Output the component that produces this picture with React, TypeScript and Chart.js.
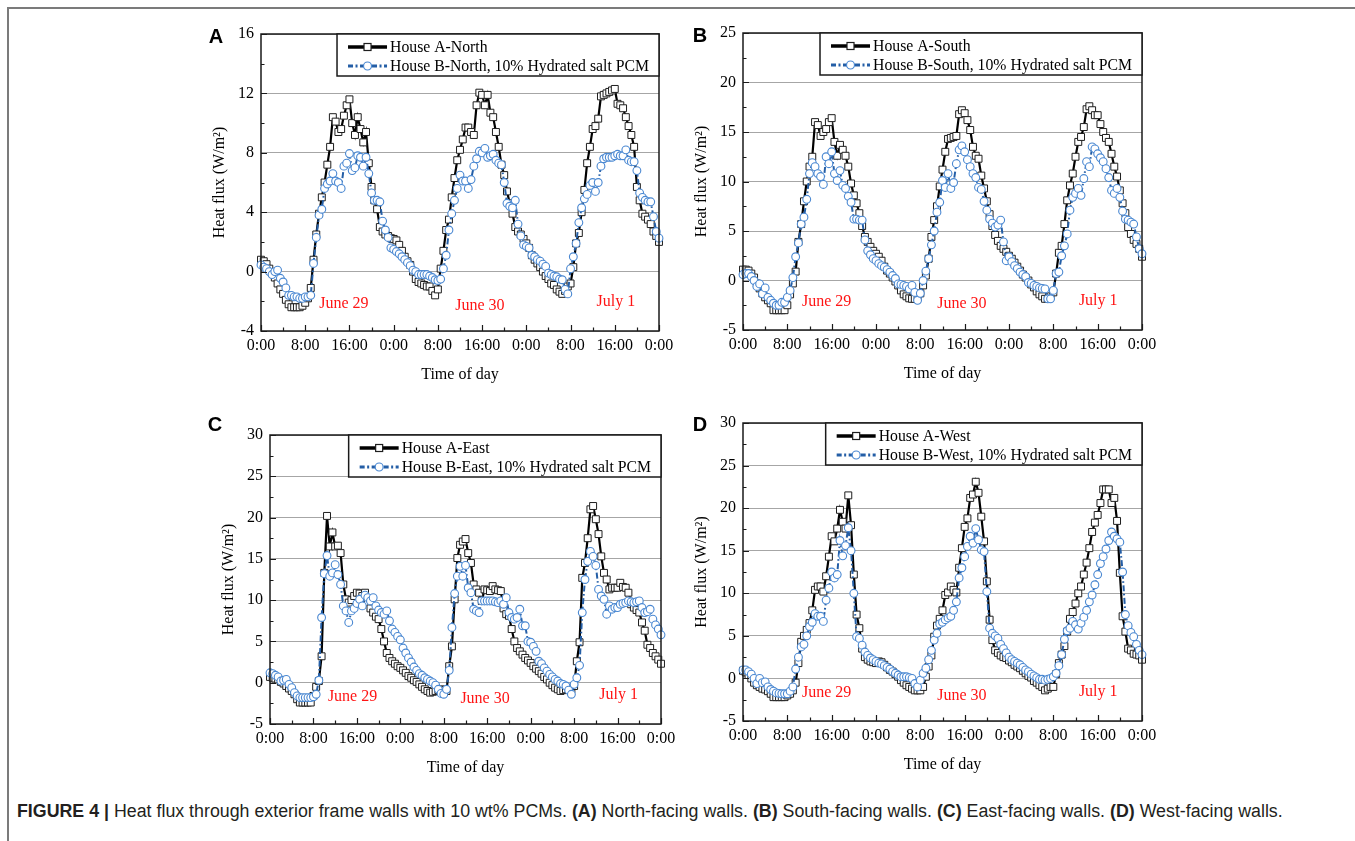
import React, { useEffect, useLayoutEffect, useRef } from "react";
import { Chart, registerables } from "chart.js";

Chart.register(...registerables);

const SERIF = "'Liberation Serif', 'Times New Roman', Times, serif";
const SANS = "'Liberation Sans', Arial, Helvetica, sans-serif";

// Sample times: hours after 0:00 on June 29, one reading every 30 minutes
const sampleHours: number[] = Array.from({ length: 145 }, (_, i) => i * 0.5);
const xTickHours = { min: 0, max: 72, step: 8 };
const dayLabels = ["June 29", "June 30", "July 1"];

// ---- (A) North ----
const northHouseA = [
  0.8, 0.7, 0.5, 0.2, -0.1, -0.4, -0.8, -1.2,
  -1.5, -1.9, -2.2, -2.4, -2.4, -2.4, -2.4, -2.3,
  -2.1, -1.8, -1.1, 0.8, 2.5, 3.9, 5.0, 6.0,
  7.2, 8.4, 10.4, 10.1, 9.4, 9.6, 10.5, 11.2,
  11.6, 10.0, 9.2, 10.4, 9.6, 8.7, 9.4, 7.3,
  5.7, 4.8, 4.2, 3.0, 2.7, 2.5, 2.4, 2.25,
  2.2, 2.1, 1.8, 1.4, 1.0, 0.7, 0.45, 0.0,
  -0.5, -0.7, -0.8, -0.9, -1.0, -1.0, -1.3, -1.6,
  -1.2, 0.2, 1.4, 2.8, 3.5, 5.0, 6.3, 7.5,
  8.2, 8.9, 9.7, 9.7, 9.4, 9.2, 11.2, 12.05,
  11.9, 11.2, 11.9, 10.7, 10.4, 9.4, 8.4, 7.2,
  6.5, 5.4, 4.6, 3.9, 3.0, 2.7, 2.5, 2.2,
  1.9, 1.6, 1.1, 0.8, 0.55, 0.3, 0.0, -0.3,
  -0.5, -0.8, -0.9, -1.2, -1.35, -1.5, -1.3, -1.0,
  -0.8, 0.3, 1.9, 2.6, 4.0, 5.5, 7.3, 8.4,
  9.6, 9.8, 10.3, 11.8, 11.9, 12.0, 12.1, 12.2,
  12.3, 11.3, 11.2, 11.0, 10.4, 9.8, 9.2, 8.4,
  5.7, 4.8, 3.9, 3.7, 3.5, 3.2, 2.7, 2.4,
  2.0,
];
const northHouseB = [
  0.45, 0.3, 0.2, 0.0, -0.2, 0.0, 0.1, -0.45,
  -0.7, -1.1, -1.6, -1.6, -1.7, -1.7, -1.8, -1.8,
  -1.7, -1.7, -1.6, 0.55, 2.3, 3.8, 4.2, 5.6,
  5.9, 6.1, 6.6, 6.1, 6.0, 5.6, 7.1, 7.3,
  7.95, 6.8, 7.0, 7.8, 7.7, 7.1, 7.7, 6.6,
  5.3, 4.8, 4.8, 4.7, 3.4, 2.8, 2.3, 1.6,
  1.5, 1.35, 1.2, 1.0, 0.8, 0.6, 0.4, 0.1,
  0.0, -0.2, -0.2, -0.2, -0.2, -0.3, -0.4, -0.55,
  -0.6, -0.5, 0.2, 1.1, 2.8, 3.9, 4.8, 5.6,
  6.5, 6.1, 6.1, 5.6, 6.2, 7.1, 7.6, 8.1,
  8.0, 8.3, 7.7, 7.8, 7.9, 7.5, 7.3, 7.2,
  6.0, 4.6, 4.4, 4.3, 4.8, 3.2, 2.4, 1.8,
  1.7, 1.6, 1.1, 1.0, 0.8, 0.7, 0.5, 0.35,
  -0.1, -0.2, -0.3, -0.35, -0.5, -0.55, -1.2, -1.5,
  0.2, 1.0, 1.9, 3.3, 4.3, 4.9, 5.2, 5.8,
  6.0, 5.4, 6.0, 7.1, 7.6, 7.7, 7.7, 7.7,
  7.8, 7.9, 7.8, 7.8, 8.2, 7.5, 7.4, 7.4,
  6.8, 5.3, 5.0, 4.8, 4.7, 4.7, 3.7, 2.7,
  2.25,
];

// ---- (B) South ----
const southHouseA = [
  1.1, 1.1, 1.0, 0.7, 0.3, -0.3, -0.8, -1.3,
  -1.7, -2.0, -2.3, -3.0, -3.0, -3.0, -3.0, -3.0,
  -2.5, -1.4, -0.3, 0.9, 3.9, 5.7, 8.0, 10.0,
  11.5, 12.5, 16.0, 15.7, 14.6, 15.0, 15.3, 16.0,
  16.4, 14.0, 12.6, 13.7, 13.2, 12.6, 11.5, 9.8,
  8.6, 7.8, 6.8, 5.5, 4.4, 3.9, 3.4, 3.0,
  2.7, 2.4, 2.0, 1.4, 1.0, 0.7, 0.3, -0.1,
  -0.5, -1.0, -1.4, -1.6, -1.8, -1.85, -1.85, -1.7,
  -1.3, -0.5, 0.5, 2.2, 4.4, 6.1, 7.5, 9.5,
  11.2, 13.0, 14.3, 14.4, 14.5, 14.6, 16.8, 17.2,
  16.9, 16.2, 15.2, 13.5, 12.6, 12.3, 10.6, 9.3,
  8.0, 6.7, 5.5, 4.6, 4.0, 3.5, 3.2, 2.9,
  2.5, 2.2, 1.8, 1.4, 1.0, 0.6, 0.3, 0.0,
  -0.4, -0.7, -1.1, -1.4, -1.6, -1.85, -1.85, -1.6,
  -1.2, 0.7, 2.8, 3.5, 5.7, 8.1, 9.6, 10.8,
  12.5, 14.0, 14.5, 15.5, 17.3, 17.6, 17.2, 16.7,
  16.7, 15.8, 15.0, 14.4, 14.0, 12.8, 11.5, 10.5,
  9.1, 7.8, 6.8, 5.4, 4.7, 4.1, 3.7, 3.2,
  2.4,
];
const southHouseB = [
  0.6, 0.7, 0.7, 0.4, 0.0, -0.6, -0.35, -1.35,
  -0.75, -1.7, -2.0, -2.3, -2.5, -2.5, -2.2, -2.2,
  -1.7, -1.0, 0.3, 2.4, 3.8, 5.7, 6.4, 8.2,
  10.8, 11.9, 11.5, 10.8, 10.5, 9.7, 12.5, 11.8,
  13.0, 10.8, 10.1, 11.1, 9.6, 9.3, 8.5, 7.9,
  6.2, 6.2, 6.1, 6.1, 4.1, 3.0, 2.6, 2.2,
  2.0, 1.7, 1.5, 1.35, 1.1, 0.85, 0.5, 0.2,
  -0.35, -0.4, -0.5, -0.6, -0.85, -0.5, -1.2, -2.0,
  -1.3, 0.0, 0.95, 2.2, 3.6, 5.0, 6.9, 7.9,
  10.1, 9.4, 10.8, 9.3, 9.9, 11.8, 13.2, 13.6,
  13.0, 12.2, 11.5, 10.8, 10.4, 9.4, 9.2, 8.0,
  7.1, 6.2, 5.8, 5.4, 5.6, 6.1, 3.9, 2.0,
  2.4, 1.9, 1.5, 1.2, 0.85, 0.6, 0.4, -0.2,
  -0.3, -0.5, -0.6, -0.75, -0.8, -0.85, -1.85, -1.85,
  -1.0, 0.7, 0.85, 2.5, 3.5, 4.7, 7.1, 8.4,
  8.8, 9.3, 8.6, 10.3, 12.0, 11.5, 13.5, 13.3,
  12.8, 12.4, 12.0, 11.3, 10.4, 9.1, 8.8, 9.3,
  8.4, 7.0, 6.2, 6.1, 5.9, 5.7, 4.4, 3.2,
  2.7,
];

// ---- (C) East ----
const eastHouseA = [
  0.7, 0.6, 0.5, 0.4, 0.1, -0.1, -0.4, -0.7,
  -1.0, -1.4, -2.0, -2.4, -2.4, -2.4, -2.4, -2.4,
  -1.6, -0.5, 0.2, 3.2, 13.3, 20.2, 16.5, 18.2,
  16.5, 16.6, 15.7, 11.9, 10.1, 9.7, 10.0, 10.5,
  10.9, 10.8, 10.5, 10.9, 9.7, 9.0, 8.5, 8.0,
  7.7, 6.5, 5.0, 3.6, 3.0, 2.6, 2.3, 2.0,
  1.8, 1.5, 1.2, 0.8, 0.6, 0.3, 0.1, -0.2,
  -0.5, -0.8, -1.0, -1.2, -1.1, -1.0, -0.9, -0.8,
  -0.9, -1.0, 2.0, 4.4, 10.1, 15.1, 16.7, 17.1,
  17.4, 15.7, 14.5, 11.9, 11.3, 10.9, 9.9, 11.3,
  11.2, 11.1, 11.7, 11.3, 11.2, 11.1, 9.0, 8.3,
  8.1, 6.5, 5.0, 4.2, 3.8, 3.4, 3.0, 2.7,
  2.4, 2.0, 1.7, 1.4, 1.1, 0.7, 0.4, 0.0,
  -0.3, -0.6, -0.8, -1.0, -0.9, -0.8, -0.8, -0.8,
  -0.4, 2.6, 4.9, 12.7, 14.5, 17.5, 21.0, 21.4,
  19.8, 18.0, 15.3, 13.3, 12.5, 11.3, 11.5, 11.5,
  11.5, 12.1, 11.6, 11.5, 10.9, 9.5, 9.1, 8.8,
  8.5, 7.3, 6.3, 4.6, 4.2, 3.6, 3.2, 2.8,
  2.3,
];
const eastHouseB = [
  1.2, 1.1, 0.9, 0.7, 0.2, 0.3, 0.4, -0.2,
  -0.6, -1.2, -1.6, -1.8, -1.8, -1.8, -1.8, -1.8,
  -1.7, -1.4, 0.3, 7.9, 13.2, 15.4, 12.9, 13.3,
  14.3, 13.1, 11.9, 9.3, 8.7, 7.3, 8.7, 9.0,
  9.6, 10.1, 9.3, 10.6, 10.3, 9.9, 10.3, 9.3,
  8.8, 8.5, 8.3, 8.7, 7.5, 6.5, 6.1, 5.6,
  5.2, 4.2, 3.6, 3.0, 2.5, 1.9, 1.5, 1.1,
  0.9, 0.6, 0.4, 0.2, 0.0, -0.3, -0.8, -1.3,
  -1.4, -0.8, 1.5, 6.7, 10.8, 12.9, 14.1, 12.9,
  14.2, 11.5, 10.9, 8.9, 8.7, 8.5, 9.9, 9.9,
  9.9, 9.9, 9.9, 9.8, 9.7, 9.9, 9.5, 10.3,
  8.5, 7.9, 7.7, 7.9, 8.9, 6.9, 6.9, 5.0,
  4.9, 4.4, 3.8, 2.6, 2.3, 1.8, 1.4, 1.0,
  0.7, 0.4, 0.2, -0.1, -0.2, -0.4, -0.9, -1.4,
  -0.2, 0.6, 2.1, 8.5, 12.5, 14.7, 15.9, 15.3,
  14.2, 11.3, 10.5, 10.1, 8.3, 9.3, 8.9, 9.1,
  9.1, 9.5, 9.6, 9.7, 9.9, 9.8, 9.7, 9.8,
  9.9, 9.1, 8.5, 8.6, 8.9, 7.7, 7.0, 6.5,
  5.8,
];

// ---- (D) West ----
const westHouseA = [
  0.9, 0.7, 0.4, 0.0, -0.5, -0.8, -1.0, -1.2,
  -1.3, -1.5, -1.8, -2.2, -2.2, -2.2, -2.2, -2.2,
  -2.0, -1.8, -1.4, -0.5, 1.8, 4.3, 5.0, 5.7,
  6.5, 8.0, 10.4, 10.8, 10.8, 10.2, 12.0, 14.3,
  16.7, 16.1, 17.6, 19.8, 18.4, 17.6, 21.5, 18.0,
  12.2, 7.5, 5.9, 3.5, 2.5, 2.2, 2.0, 1.9,
  1.8, 2.0, 1.9, 1.6, 1.3, 1.0, 0.8, 0.5,
  0.2, -0.2, -0.5, -0.8, -1.0, -1.2, -1.4, -1.4,
  -1.4, -1.0, 0.2, 1.4, 2.7, 4.9, 6.2, 7.0,
  8.0, 9.8, 10.1, 10.8, 10.4, 10.1, 13.0, 15.3,
  17.8, 18.8, 21.2, 21.6, 23.1, 21.8, 19.0, 16.1,
  11.4, 6.9, 4.5, 3.3, 3.0, 2.7, 2.5, 2.4,
  2.1, 1.9, 1.6, 1.4, 1.2, 0.9, 0.6, 0.3,
  0.1, -0.3, -0.5, -0.8, -1.0, -1.4, -1.2, -1.0,
  -1.0, 0.5, 1.8, 2.8, 3.8, 5.5, 7.0, 7.8,
  8.8, 10.0, 10.8, 12.2, 13.6, 15.3, 17.2, 18.3,
  19.2, 20.6, 22.2, 22.2, 22.2, 20.6, 21.2, 18.5,
  12.4, 7.3, 5.5, 3.5, 3.3, 2.9, 2.8, 2.7,
  2.2,
];
const westHouseB = [
  1.0, 1.0, 0.8, 0.5, 0.0, -0.6, 0.0, -0.5,
  -0.4, -1.0, -1.3, -1.5, -1.7, -1.75, -1.8, -1.8,
  -1.8, -1.5, -1.0, 1.1, 2.5, 3.7, 4.0, 5.0,
  6.1, 6.6, 7.6, 7.3, 7.3, 6.7, 9.2, 10.6,
  12.5, 11.8, 12.2, 16.2, 14.4, 15.6, 17.7, 15.0,
  10.0, 4.9, 4.7, 3.9, 3.1, 2.7, 2.4, 2.2,
  2.0, 1.8, 1.7, 1.5, 1.3, 1.1, 0.8, 0.6,
  0.4, 0.2, 0.2, 0.2, 0.1, 0.0, -0.6, -1.0,
  -0.2, 0.6, 1.2, 2.2, 3.3, 4.5, 5.3, 6.4,
  6.6, 6.9, 7.1, 7.3, 8.0, 9.0, 11.8, 13.0,
  14.3, 15.5, 16.7, 15.9, 17.6, 16.3, 15.1, 14.9,
  10.2, 5.9, 5.3, 5.0, 4.7, 4.0, 3.5, 3.0,
  2.5, 2.2, 2.0, 1.8, 1.6, 1.3, 1.0, 0.8,
  0.5, 0.3, 0.1, -0.1, -0.1, -0.2, -0.1, 0.0,
  0.2, 0.6, 1.5, 2.8, 4.6, 5.6, 5.9, 6.7,
  6.3, 5.8, 6.5, 7.2, 8.0, 9.0, 9.8, 11.0,
  12.2, 13.5, 14.3, 15.2, 16.2, 17.2, 16.7, 16.4,
  16.0, 12.5, 7.5, 6.2, 5.4, 4.9, 4.0, 3.3,
  2.8,
];

// Legend labels
const northLabels = ["House A-North", "House B-North, 10% Hydrated salt PCM"];
const southLabels = ["House A-South", "House B-South, 10% Hydrated salt PCM"];
const eastLabels = ["House A-East", "House B-East, 10% Hydrated salt PCM"];
const westLabels = ["House A-West", "House B-West, 10% Hydrated salt PCM"];

// Date annotation anchors [hour, heat flux]
const northDateAnchors = [[15.0, -2.2], [39.6, -2.3], [64.2, -2.05]];
const southDateAnchors = [[15.1, -2.2], [39.5, -2.4], [64.1, -2.1]];
const eastDateAnchors = [[15.2, -1.7], [39.6, -2.0], [64.2, -1.5]];
const westDateAnchors = [[15.1, -1.7], [39.5, -2.0], [64.1, -1.6]];

// Y-axis ranges [min, max, step]
const northYRange = [-4, 16, 4];
const southYRange = [-5, 25, 5];
const eastYRange = [-5, 30, 5];
const westYRange = [-5, 30, 5];

type PanelCfg = {
  letter: string;
  a: number[];
  b: number[];
  labels: string[];
  dates: number[][];
  yRange: number[];
  plot: { l: number; t: number; r: number; b: number };
  letterPos: [number, number];
};

const panels: PanelCfg[] = [
  { letter: "A", a: northHouseA, b: northHouseB, labels: northLabels, dates: northDateAnchors, yRange: northYRange, plot: { l: 261, t: 34, r: 659, b: 331 }, letterPos: [-45, 3] },
  { letter: "B", a: southHouseA, b: southHouseB, labels: southLabels, dates: southDateAnchors, yRange: southYRange, plot: { l: 743, t: 33, r: 1142, b: 330 }, letterPos: [-43, 3] },
  { letter: "C", a: eastHouseA, b: eastHouseB, labels: eastLabels, dates: eastDateAnchors, yRange: eastYRange, plot: { l: 270, t: 435, r: 661, b: 724 }, letterPos: [-55, -10] },
  { letter: "D", a: westHouseA, b: westHouseB, labels: westLabels, dates: westDateAnchors, yRange: westYRange, plot: { l: 743, t: 423, r: 1142, b: 721 }, letterPos: [-43, 2] },
];

const PAD_L = 70, PAD_T = 20, PAD_R = 30, PAD_B = 60;
const BLACK_LINE = "#000000";
const SQUARE_EDGE = "#1e1e1e";
const BLUE_LINE = "#245ea6";
const CIRCLE_EDGE = "#4a88d2";
const BLUE_DASH = [6, 2.5, 1.6, 2.5];
const DATE_RED = "#ff1414";
const LEGEND_FONT = `15.75px ${SERIF}`;

function makeDecor(cfg: PanelCfg) {
  return {
    id: "decor" + cfg.letter,
    afterDatasetsDraw(chart: any) {
      const { ctx, chartArea: ca, scales } = chart;
      const xs = scales.x, ys = scales.y;
      const [yMin, yMax, yStep] = cfg.yRange;
      ctx.save();
      // inner ticks
      ctx.strokeStyle = "#1a1a1a";
      ctx.lineWidth = 1.2;
      ctx.beginPath();
      for (let h = xTickHours.min; h <= xTickHours.max; h += xTickHours.step / 2) {
        const px = Math.round(xs.getPixelForValue(h)) + 0.5;
        const len = h % xTickHours.step === 0 ? 6 : 3.5;
        ctx.moveTo(px, ca.bottom);
        ctx.lineTo(px, ca.bottom - len);
      }
      for (let v = yMin; v <= yMax + 1e-9; v += yStep / 2) {
        const py = Math.round(ys.getPixelForValue(v)) + 0.5;
        const major = Math.abs(((v - yMin) / yStep) - Math.round((v - yMin) / yStep)) < 1e-6;
        ctx.moveTo(ca.left, py);
        ctx.lineTo(ca.left + (major ? 6 : 3.5), py);
      }
      ctx.stroke();
      // frame
      ctx.lineWidth = 1.5;
      ctx.strokeStyle = "#1a1a1a";
      ctx.strokeRect(ca.left, ca.top, ca.right - ca.left, ca.bottom - ca.top);

      // date labels
      ctx.fillStyle = DATE_RED;
      ctx.font = `16px ${SERIF}`;
      ctx.textAlign = "center";
      ctx.textBaseline = "middle";
      cfg.dates.forEach((d, i) => {
        ctx.fillText(dayLabels[i], xs.getPixelForValue(d[0]), ys.getPixelForValue(d[1]));
      });

      // legend
      ctx.font = LEGEND_FONT;
      const tw = Math.max(...cfg.labels.map((s) => ctx.measureText(s).width));
      const bw = 11 + 39 + 3 + tw + 10;
      const bh = 42;
      const bx = ca.right - bw;
      const by = ca.top;
      ctx.fillStyle = "#fff";
      ctx.fillRect(bx, by, bw, bh);
      ctx.lineWidth = 1.5;
      ctx.strokeStyle = "#1a1a1a";
      ctx.strokeRect(bx, by, bw, bh);
      const rows = [by + 13, by + 32];
      rows.forEach((ry, i) => {
        const x0 = bx + 11, x1 = bx + 50, xm = (x0 + x1) / 2;
        ctx.beginPath();
        ctx.moveTo(x0, ry);
        ctx.lineTo(x1, ry);
        if (i === 0) {
          ctx.setLineDash([]);
          ctx.strokeStyle = BLACK_LINE;
          ctx.lineWidth = 3.5;
        } else {
          ctx.setLineDash([5, 2.5, 2, 2.5]);
          ctx.strokeStyle = BLUE_LINE;
          ctx.lineWidth = 3;
        }
        ctx.stroke();
        ctx.setLineDash([]);
        ctx.lineWidth = 1.2;
        ctx.fillStyle = "#fff";
        if (i === 0) {
          ctx.strokeStyle = SQUARE_EDGE;
          ctx.fillRect(xm - 3.5, ry - 3.5, 7, 7);
          ctx.strokeRect(xm - 3.5, ry - 3.5, 7, 7);
        } else {
          ctx.strokeStyle = CIRCLE_EDGE;
          ctx.beginPath();
          ctx.arc(xm, ry, 4, 0, Math.PI * 2);
          ctx.fill();
          ctx.stroke();
        }
        ctx.fillStyle = "#000";
        ctx.textAlign = "left";
        ctx.textBaseline = "middle";
        ctx.font = LEGEND_FONT;
        ctx.fillText(cfg.labels[i], x1 + 3, ry + 1);
      });

      // axis titles
      ctx.fillStyle = "#000";
      ctx.font = `16px ${SERIF}`;
      ctx.textAlign = "center";
      ctx.textBaseline = "middle";
      ctx.fillText("Time of day", (ca.left + ca.right) / 2, ca.bottom + 44);
      ctx.save();
      ctx.translate(ca.left - 41, (ca.top + ca.bottom) / 2);
      ctx.rotate(-Math.PI / 2);
      ctx.fillText("Heat flux (W/m\u00B2)", 0, 0);
      ctx.restore();

      // panel letter
      ctx.font = `bold 20px ${SANS}`;
      ctx.fillText(cfg.letter, ca.left + cfg.letterPos[0], ca.top + cfg.letterPos[1]);
      ctx.restore();
    },
  };
}

function Panel({ cfg }: { cfg: PanelCfg }) {
  const ref = useRef<HTMLCanvasElement>(null);
  const W = cfg.plot.r - cfg.plot.l + PAD_L + PAD_R;
  const H = cfg.plot.b - cfg.plot.t + PAD_T + PAD_B;
  useEffect(() => {
    const [yMin, yMax, yStep] = cfg.yRange;
    const tickFont = { family: SERIF, size: 16 };
    const chart = new Chart(ref.current as HTMLCanvasElement, {
      type: "line",
      data: {
        datasets: [
          {
            label: cfg.labels[0],
            data: sampleHours.map((h, i) => ({ x: h, y: cfg.a[i] })),
            borderColor: BLACK_LINE,
            borderWidth: 2.2,
            pointStyle: "rect",
            pointRadius: 4.9,
            pointBackgroundColor: "#ffffff",
            pointBorderColor: SQUARE_EDGE,
            pointBorderWidth: 1,
            tension: 0,
            order: 2,
            clip: false,
          } as any,
          {
            label: cfg.labels[1],
            data: sampleHours.map((h, i) => ({ x: h, y: cfg.b[i] })),
            borderColor: BLUE_LINE,
            borderWidth: 2,
            borderDash: BLUE_DASH,
            pointStyle: "circle",
            pointRadius: 3.9,
            pointBackgroundColor: "#ffffff",
            pointBorderColor: CIRCLE_EDGE,
            pointBorderWidth: 1.1,
            tension: 0,
            order: 1,
            clip: false,
          } as any,
        ],
      },
      options: {
        animation: false,
        responsive: false,
        maintainAspectRatio: false,
        events: [],
        layout: { padding: { left: 0, top: PAD_T, right: PAD_R, bottom: 0 } },
        plugins: { legend: { display: false }, tooltip: { enabled: false }, title: { display: false } },
        scales: {
          x: {
            type: "linear",
            min: xTickHours.min,
            max: xTickHours.max,
            afterFit: (s: any) => { s.height = PAD_B; },
            grid: { display: false, drawTicks: false },
            border: { display: false },
            ticks: {
              stepSize: xTickHours.step,
              padding: 5,
              color: "#000",
              font: tickFont,
              maxRotation: 0,
              autoSkip: false,
              callback: (v: any) => `${Number(v) % 24}:00`,
            },
          },
          y: {
            type: "linear",
            min: yMin,
            max: yMax,
            afterFit: (s: any) => { s.width = PAD_L; },
            grid: { color: "#a6a6a6", lineWidth: 1, drawTicks: false },
            border: { display: false },
            ticks: { stepSize: yStep, padding: 7, color: "#000", font: tickFont },
          },
        },
      } as any,
      plugins: [makeDecor(cfg)],
    });
    return () => chart.destroy();
  }, []);
  return (
    <canvas
      ref={ref}
      width={W}
      height={H}
      style={{ position: "absolute", left: cfg.plot.l - PAD_L, top: cfg.plot.t - PAD_T, width: W, height: H }}
    />
  );
}

function Caption() {
  const ref = useRef<HTMLDivElement>(null);
  useLayoutEffect(() => {
    const el = ref.current;
    if (!el) return;
    const w = el.getBoundingClientRect().width;
    if (w > 0) el.style.fontSize = `${(15 * 1266) / w}px`;
  }, []);
  return (
    <div
      ref={ref}
      style={{
        position: "absolute",
        left: 17,
        top: 802,
        whiteSpace: "nowrap",
        display: "inline-block",
        fontFamily: SANS,
        fontSize: 15,
        lineHeight: "18px",
        color: "#231f20",
      }}
    >
      <b>FIGURE 4 |</b> Heat flux through exterior frame walls with 10 wt% PCMs. <b>(A)</b> North-facing walls.{" "}
      <b>(B)</b> South-facing walls. <b>(C)</b> East-facing walls. <b>(D)</b> West-facing walls.
    </div>
  );
}

export default function App() {
  return (
    <div style={{ position: "absolute", left: 0, top: 0, width: 1355, height: 841, background: "#fff", overflow: "hidden" }}>
      <div style={{ position: "absolute", left: 7, top: 7, width: 1348, height: 2, background: "#7b7b7b" }} />
      <div style={{ position: "absolute", left: 7, top: 7, width: 2, height: 834, background: "#7b7b7b" }} />
      {panels.map((p) => (
        <Panel key={p.letter} cfg={p} />
      ))}
      <Caption />
    </div>
  );
}
